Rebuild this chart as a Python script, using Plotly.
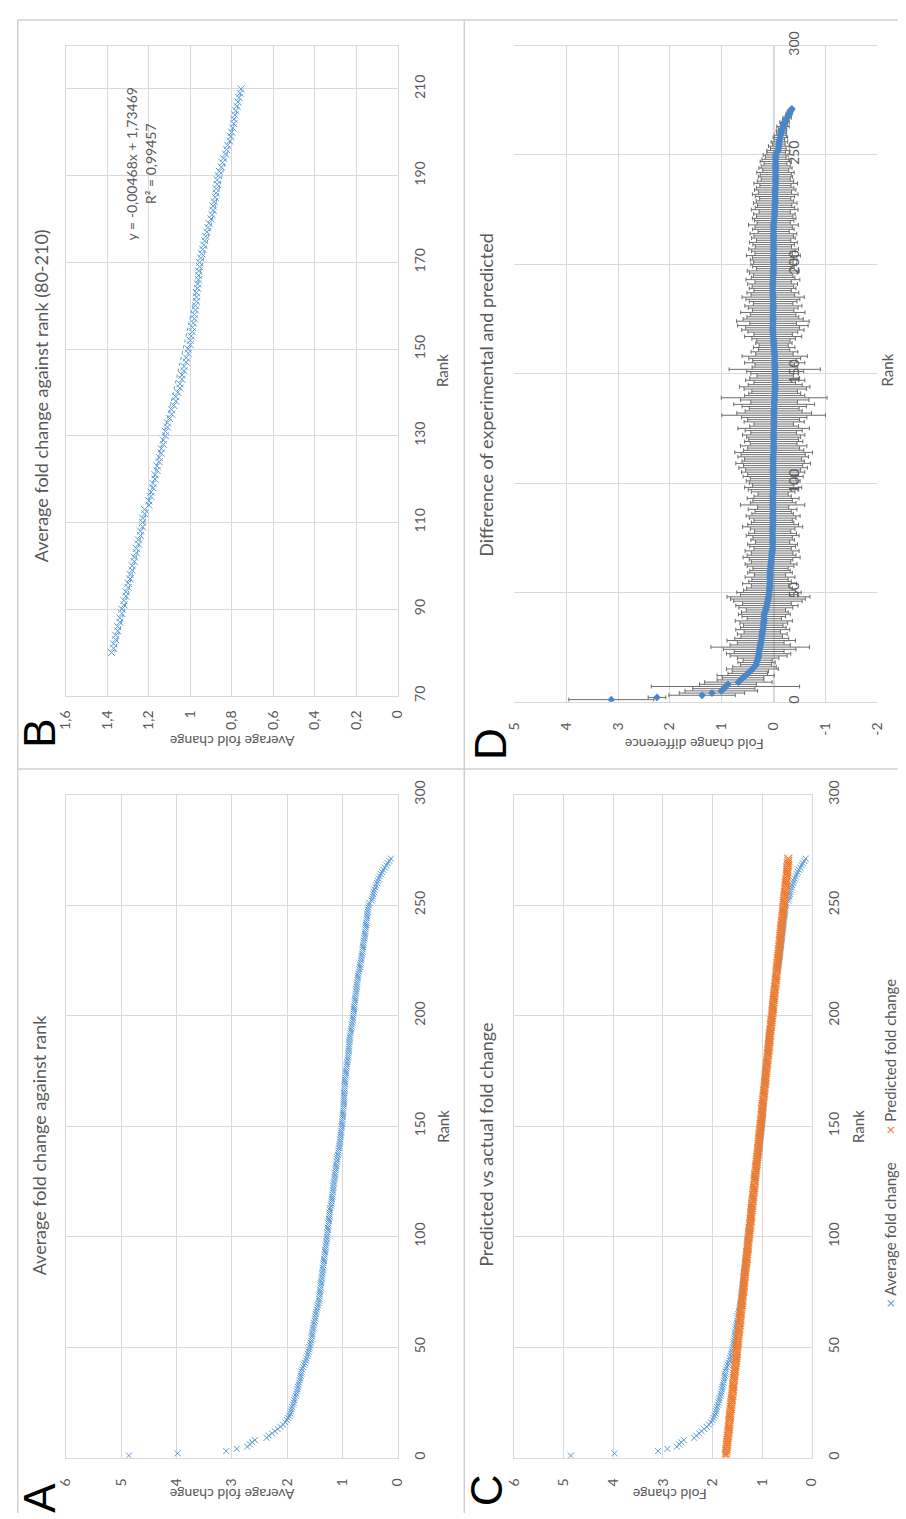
import numpy as np
import plotly.graph_objects as go

# ---------------- data ----------------
rank = list(range(1, 272))

avg_fold_change = [
    4.86, 3.98, 3.10, 2.91, 2.72, 2.67, 2.63, 2.58, 2.37, 2.33,
    2.27, 2.22, 2.17, 2.12, 2.07, 2.03, 2.00, 1.98, 1.96, 1.94,
    1.93, 1.92, 1.91, 1.89, 1.88, 1.87, 1.86, 1.84, 1.83, 1.82,
    1.81, 1.80, 1.79, 1.78, 1.77, 1.76, 1.75, 1.74, 1.74, 1.73,
    1.71, 1.69, 1.68, 1.66, 1.65, 1.63, 1.62, 1.61, 1.60, 1.59,
    1.58, 1.57, 1.56, 1.56, 1.55, 1.54, 1.54, 1.53, 1.53, 1.52,
    1.51, 1.50, 1.49, 1.49, 1.48, 1.47, 1.46, 1.45, 1.44, 1.43,
    1.42, 1.42, 1.41, 1.41, 1.40, 1.40, 1.39, 1.39, 1.38, 1.38,
    1.37, 1.37, 1.36, 1.36, 1.35, 1.35, 1.34, 1.34, 1.33, 1.33,
    1.32, 1.32, 1.31, 1.31, 1.30, 1.30, 1.29, 1.29, 1.28, 1.28,
    1.27, 1.27, 1.26, 1.26, 1.25, 1.25, 1.24, 1.24, 1.23, 1.23,
    1.23, 1.22, 1.22, 1.20, 1.20, 1.19, 1.19, 1.18, 1.18, 1.17,
    1.17, 1.16, 1.16, 1.15, 1.15, 1.14, 1.14, 1.13, 1.13, 1.12,
    1.12, 1.11, 1.11, 1.10, 1.09, 1.09, 1.08, 1.07, 1.07, 1.06,
    1.05, 1.05, 1.04, 1.04, 1.03, 1.03, 1.02, 1.02, 1.01, 1.01,
    1.00, 1.00, 0.995, 0.99, 0.99, 0.985, 0.98, 0.98, 0.975, 0.975,
    0.97, 0.97, 0.97, 0.965, 0.965, 0.96, 0.96, 0.96, 0.955, 0.955,
    0.95, 0.945, 0.94, 0.935, 0.93, 0.925, 0.92, 0.915, 0.91, 0.90,
    0.895, 0.89, 0.89, 0.885, 0.88, 0.875, 0.875, 0.87, 0.87, 0.865,
    0.86, 0.85, 0.845, 0.84, 0.83, 0.825, 0.82, 0.81, 0.805, 0.80,
    0.795, 0.79, 0.79, 0.785, 0.78, 0.775, 0.77, 0.765, 0.76, 0.755,
    0.75, 0.745, 0.74, 0.735, 0.73, 0.725, 0.72, 0.715, 0.71, 0.70,
    0.69, 0.68, 0.675, 0.67, 0.66, 0.655, 0.65, 0.64, 0.635, 0.63,
    0.625, 0.62, 0.615, 0.61, 0.60, 0.595, 0.59, 0.585, 0.58, 0.575,
    0.57, 0.565, 0.56, 0.555, 0.55, 0.545, 0.54, 0.535, 0.53, 0.52,
    0.51, 0.47, 0.46, 0.45, 0.44, 0.43, 0.42, 0.40, 0.39, 0.37,
    0.36, 0.34, 0.32, 0.30, 0.28, 0.26, 0.23, 0.20, 0.18, 0.15,
    0.12,
]

predicted_fold_change = [
    1.73, 1.73, 1.72, 1.72, 1.71, 1.71, 1.70, 1.70, 1.69, 1.69,
    1.68, 1.68, 1.67, 1.67, 1.66, 1.66, 1.66, 1.65, 1.65, 1.64,
    1.64, 1.63, 1.63, 1.62, 1.62, 1.61, 1.61, 1.60, 1.60, 1.59,
    1.59, 1.58, 1.58, 1.58, 1.57, 1.57, 1.56, 1.56, 1.55, 1.55,
    1.54, 1.54, 1.53, 1.53, 1.52, 1.52, 1.51, 1.51, 1.51, 1.50,
    1.50, 1.49, 1.49, 1.48, 1.48, 1.47, 1.47, 1.46, 1.46, 1.45,
    1.45, 1.44, 1.44, 1.44, 1.43, 1.43, 1.42, 1.42, 1.41, 1.41,
    1.40, 1.40, 1.39, 1.39, 1.38, 1.38, 1.37, 1.37, 1.36, 1.36,
    1.36, 1.35, 1.35, 1.34, 1.34, 1.33, 1.33, 1.32, 1.32, 1.31,
    1.31, 1.30, 1.30, 1.29, 1.29, 1.29, 1.28, 1.28, 1.27, 1.27,
    1.26, 1.26, 1.25, 1.25, 1.24, 1.24, 1.23, 1.23, 1.22, 1.22,
    1.22, 1.21, 1.21, 1.20, 1.20, 1.19, 1.19, 1.18, 1.18, 1.17,
    1.17, 1.16, 1.16, 1.15, 1.15, 1.15, 1.14, 1.14, 1.13, 1.13,
    1.12, 1.12, 1.11, 1.11, 1.10, 1.10, 1.09, 1.09, 1.08, 1.08,
    1.07, 1.07, 1.07, 1.06, 1.06, 1.05, 1.05, 1.04, 1.04, 1.03,
    1.03, 1.02, 1.02, 1.01, 1.01, 1.00, 1.00, 1.00, 0.99, 0.99,
    0.98, 0.98, 0.97, 0.97, 0.96, 0.96, 0.95, 0.95, 0.94, 0.94,
    0.93, 0.93, 0.93, 0.92, 0.92, 0.91, 0.91, 0.90, 0.90, 0.89,
    0.89, 0.88, 0.88, 0.87, 0.87, 0.86, 0.86, 0.85, 0.85, 0.85,
    0.84, 0.84, 0.83, 0.83, 0.82, 0.82, 0.81, 0.81, 0.80, 0.80,
    0.79, 0.79, 0.78, 0.78, 0.78, 0.77, 0.77, 0.76, 0.76, 0.75,
    0.75, 0.74, 0.74, 0.73, 0.73, 0.72, 0.72, 0.71, 0.71, 0.71,
    0.70, 0.70, 0.69, 0.69, 0.68, 0.68, 0.67, 0.67, 0.66, 0.66,
    0.65, 0.65, 0.64, 0.64, 0.63, 0.63, 0.63, 0.62, 0.62, 0.61,
    0.61, 0.60, 0.60, 0.59, 0.59, 0.58, 0.58, 0.57, 0.57, 0.56,
    0.56, 0.56, 0.55, 0.55, 0.54, 0.54, 0.53, 0.53, 0.52, 0.52,
    0.51, 0.51, 0.50, 0.50, 0.49, 0.49, 0.49, 0.48, 0.48, 0.47,
    0.47,
]

diff_error = [
    0.82, 0.17, 0.64, 0.63, 0.70, 0.60, 1.43, 0.55, 0.65, 0.45,
    0.40, 0.55, 0.38, 0.35, 0.50, 0.42, 0.30, 0.36, 0.28, 0.40,
    0.55, 0.62, 0.48, 0.70, 0.95, 0.58, 0.45, 0.66, 0.52, 0.40,
    0.48, 0.35, 0.52, 0.44, 0.38, 0.46, 0.55, 0.33, 0.42, 0.50,
    0.45, 0.38, 0.52, 0.60, 0.47, 0.66, 0.72, 0.80, 0.55, 0.62,
    0.50, 0.44, 0.36, 0.52, 0.41, 0.35, 0.48, 0.30, 0.43, 0.39,
    0.34, 0.45, 0.50, 0.38, 0.42, 0.55, 0.47, 0.40, 0.52, 0.36,
    0.44, 0.48, 0.33, 0.42, 0.38, 0.51, 0.46, 0.35, 0.43, 0.58,
    0.49, 0.41, 0.37, 0.45, 0.52, 0.40, 0.35, 0.47, 0.30, 0.62,
    0.44, 0.38, 0.50, 0.36, 0.29, 0.42, 0.48, 0.55, 0.40, 0.46,
    0.52, 0.44, 0.58, 0.49, 0.61, 0.53, 0.66, 0.57, 0.72, 0.60,
    0.55, 0.68, 0.62, 0.75, 0.58, 0.50, 0.64, 0.45, 0.56, 0.48,
    0.52, 0.60, 0.44, 0.55, 0.69, 0.47, 0.38, 0.58, 0.50, 0.63,
    1.00, 0.72, 0.55, 0.48, 0.62, 0.78, 0.45, 0.66, 1.02, 0.58,
    0.50, 0.44, 0.60, 0.68, 0.52, 0.40, 0.57, 0.48, 0.35, 0.46,
    0.55, 0.88, 0.44, 0.38, 0.58, 0.42, 0.50, 0.63, 0.36, 0.45,
    0.30, 0.40, 0.28, 0.35, 0.32, 0.42, 0.55, 0.37, 0.48, 0.60,
    0.52, 0.68, 0.45, 0.70, 0.58, 0.50, 0.44, 0.62, 0.40, 0.48,
    0.55, 0.38, 0.46, 0.52, 0.60, 0.42, 0.50, 0.36, 0.45, 0.40,
    0.48, 0.35, 0.52, 0.42, 0.38, 0.46, 0.50, 0.33, 0.40, 0.44,
    0.38, 0.45, 0.40, 0.52, 0.36, 0.42, 0.48, 0.35, 0.40, 0.46,
    0.33, 0.42, 0.38, 0.45, 0.30, 0.40, 0.36, 0.48, 0.32, 0.38,
    0.42, 0.35, 0.40, 0.30, 0.45, 0.38, 0.33, 0.42, 0.36, 0.30,
    0.38, 0.44, 0.32, 0.40, 0.36, 0.30, 0.42, 0.35, 0.28, 0.33,
    0.30, 0.36, 0.25, 0.32, 0.28, 0.22, 0.30, 0.26, 0.20, 0.24,
    0.18, 0.22, 0.15, 0.20, 0.12, 0.16, 0.10, 0.14, 0.12, 0.09,
    0.10, 0.08, 0.12, 0.07, 0.09, 0.06, 0.08, 0.05, 0.06, 0.05,
    0.04,
]

# Panel D: experimental minus predicted
fold_diff = [round(a - p, 3) for a, p in zip(avg_fold_change, predicted_fold_change)]

# Panel B subset (ranks 80-210)
b_rank = rank[79:210]
b_avg = avg_fold_change[79:210]
b_coef = np.polyfit(b_rank, b_avg, 1)
b_trend_x = [b_rank[0], b_rank[-1]]
b_trend_y = [float(np.polyval(b_coef, r)) for r in b_trend_x]

fold_ticks_6 = [0, 1, 2, 3, 4, 5, 6]
fold_ticks_b = [0, 0.2, 0.4, 0.6, 0.8, 1.0, 1.2, 1.4, 1.6]
fold_ticktext_b = ["0", "0,2", "0,4", "0,6", "0,8", "1", "1,2", "1,4", "1,6"]
fold_ticks_d = [-2, -1, 0, 1, 2, 3, 4, 5]

# ---------------- styling ----------------
W, H = 906, 1519
BLUE = "#5B9BD5"
ORANGE = "#ED7D31"
DBLUE = "#4A86C8"
GRID = "#D9D9D9"
TXT = "#595959"
FONT = "Lato"


def px(x):
    return x / W


def py(y):
    return 1 - y / H


xmark = lambda c: dict(symbol="x-thin", size=6, color=c, line=dict(width=1, color=c))

fig = go.Figure()

# A
fig.add_trace(go.Scatter(x=avg_fold_change, y=rank, mode="markers",
                         marker=xmark(BLUE), xaxis="x", yaxis="y"))
# B
fig.add_trace(go.Scatter(x=b_avg, y=b_rank, mode="markers",
                         marker=dict(symbol="x-thin", size=7, color=BLUE, line=dict(width=1, color=BLUE)),
                         xaxis="x2", yaxis="y2"))
fig.add_trace(go.Scatter(x=b_trend_y, y=b_trend_x, mode="lines",
                         line=dict(color=BLUE, width=1, dash="dot"),
                         xaxis="x2", yaxis="y2"))
# C
fig.add_trace(go.Scatter(x=avg_fold_change, y=rank, mode="markers",
                         marker=xmark(BLUE), xaxis="x3", yaxis="y3"))
fig.add_trace(go.Scatter(x=predicted_fold_change, y=rank, mode="markers",
                         marker=dict(symbol="x-thin", size=8, color=ORANGE, line=dict(width=1.2, color=ORANGE)),
                         xaxis="x3", yaxis="y3"))
# D
fig.add_trace(go.Scatter(x=fold_diff, y=rank, mode="markers",
                         marker=dict(symbol="diamond", size=6, color=DBLUE),
                         error_x=dict(type="data", array=diff_error, color="#6E6E6E",
                                      thickness=1, width=2),
                         xaxis="x4", yaxis="y4"))

tickfont = dict(family=FONT, size=14, color=TXT)


def fold_axis(dom, rng, tv, tt, anchor, standoff):
    return dict(domain=[px(dom[0]), px(dom[1])], range=rng, tickvals=tv, ticktext=tt,
                tickangle=-90, showgrid=True, gridcolor=GRID, gridwidth=1,
                zeroline=False, showline=True, mirror=True, linecolor=GRID,
                ticks="", tickfont=tickfont, anchor=anchor,
                ticklabelstandoff=standoff, fixedrange=True)


def rank_axis(dom, rng, tick0, dtick, anchor, showline=True):
    return dict(domain=[py(dom[1]), py(dom[0])], range=rng, tick0=tick0, dtick=dtick,
                tickmode="linear", side="right", tickangle=-90, showgrid=True,
                gridcolor=GRID, gridwidth=1, zeroline=False, showline=showline,
                mirror=showline, linecolor=GRID, ticks="", tickfont=tickfont,
                anchor=anchor, ticklabelstandoff=10, fixedrange=True)


layout = dict(
    width=W, height=H, margin=dict(l=0, r=0, t=0, b=0),
    paper_bgcolor="white", plot_bgcolor="white", showlegend=False,
    font=dict(family=FONT, color=TXT),
    xaxis=fold_axis((58, 396), [6, 0], fold_ticks_6, [str(v) for v in fold_ticks_6], "y", 14),
    yaxis=rank_axis((791, 1463), [0, 300], 0, 50, "x"),
    xaxis2=fold_axis((58, 396), [1.6, 0], fold_ticks_b, fold_ticktext_b, "y2", 8),
    yaxis2=rank_axis((32, 691), [70, 220], 70, 20, "x2"),
    xaxis3=fold_axis((515, 818), [6, 0], fold_ticks_6, [str(v) for v in fold_ticks_6], "y3", 14),
    yaxis3=rank_axis((791, 1463), [0, 300], 0, 50, "x3"),
    xaxis4=fold_axis((515, 885), [5, -2], fold_ticks_d, [str(v) for v in fold_ticks_d], "y4", 14),
    yaxis4=rank_axis((32, 697), [0, 300], 0, 50, "free", showline=False),
)
layout["yaxis4"]["position"] = px(780)
layout["xaxis4"]["zeroline"] = True
layout["xaxis4"]["zerolinecolor"] = GRID

fig.update_layout(**layout)


def ann(text, x, y, angle, size, color=TXT, family=FONT):
    fig.add_annotation(text=text, x=px(x), y=py(y), xref="paper", yref="paper",
                       showarrow=False, textangle=angle, xanchor="center", yanchor="middle",
                       font=dict(family=family, size=size, color=color))


# panel titles
ann("Average fold change against rank", 30, 1146, -90, 18)
ann("Average fold change against rank (80-210)", 33, 387, -90, 18)
ann("Predicted vs actual fold change", 486, 1146, -90, 18)
ann("Difference of experimental and predicted", 486, 386, -90, 18)

# axis titles
ann("Average fold change", 227, 1501, 180, 14)
ann("Average fold change", 227, 737, 180, 14)
ann("Fold change", 673, 1500, 180, 14)
ann("Fold change difference", 698, 741, 180, 14)
ann("Rank", 442, 1127, -90, 15)
ann("Rank", 442, 361, -90, 15)
ann("Rank", 865, 1127, -90, 15)
ann("Rank", 895, 361, -90, 15)

# trendline label
ann("y = -0,00468x + 1,73469<br>R² = 0,99457", 135, 152, -90, 14)

# legend of C
ann(f"<span style='color:{BLUE}'>×</span> Average fold change", 898, 1237, -90, 15)
ann(f"<span style='color:{ORANGE}'>×</span> Predicted fold change", 898, 1057, -90, 15)

# panel letters
for letter, (lx, ly) in {"A": (31, 1503), "B": (31, 729), "C": (486, 1496), "D": (490, 740)}.items():
    ann(letter, lx, ly, -90, 44, color="black", family="Liberation Sans")

# panel frame lines
frame = dict(type="line", xref="paper", yref="paper", line=dict(color="#D0D0D0", width=1.5))
fig.add_shape(**frame, x0=px(9), x1=px(9), y0=py(6), y1=py(1519))
fig.add_shape(**frame, x0=px(9), x1=px(906), y0=py(6), y1=py(6))
fig.add_shape(**frame, x0=px(464), x1=px(464), y0=py(6), y1=py(1519))
fig.add_shape(**frame, x0=px(9), x1=px(906), y0=py(765), y1=py(765))

fig.write_html("out.html", config={"displayModeBar": False},
               post_script="document.body.style.margin='0';document.body.style.overflow='hidden';")
